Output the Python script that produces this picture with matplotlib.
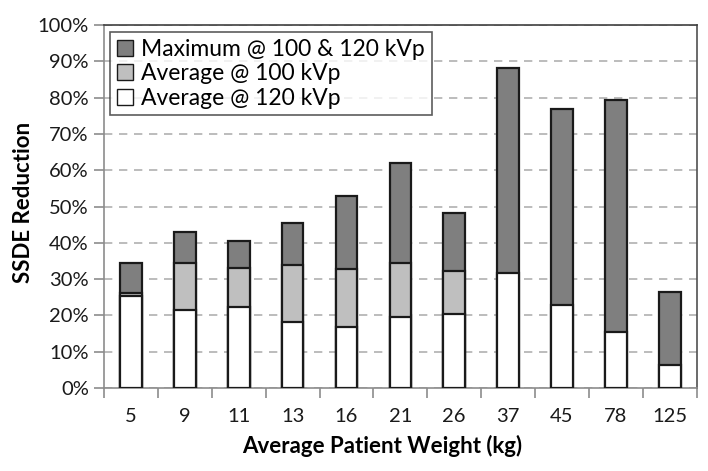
import numpy as np
import matplotlib
matplotlib.use("Agg")
import matplotlib.pyplot as plt
from matplotlib.patches import Patch

plt.rcParams['font.family'] = ['Lato', 'DejaVu Sans']

weights = ['5', '9', '11', '13', '16', '21', '26', '37', '45', '78', '125']
max_both = [34.5, 43.0, 40.5, 45.5, 53.0, 62.0, 48.3, 88.2, 76.9, 79.2, 26.6]
avg_100 = [26.1, 34.5, 33.0, 33.9, 32.9, 34.4, 32.2, None, None, None, None]
avg_120 = [25.3, 21.6, 22.2, 18.1, 16.9, 19.6, 20.4, 31.6, 23.0, 15.4, 6.4]

fig = plt.figure(figsize=(7.08, 4.71), dpi=100)
ax = fig.add_axes([0.147, 0.176, 0.837, 0.771])

x = np.arange(len(weights))
w = 0.4
ec = '#1a1a1a'
lw = 1.6

ax.bar(x, max_both, w, color='#7f7f7f', edgecolor=ec, linewidth=lw, zorder=3)
idx = [i for i, v in enumerate(avg_100) if v is not None]
ax.bar(x[idx], [avg_100[i] for i in idx], w, color='#bfbfbf', edgecolor=ec, linewidth=lw, zorder=4)
ax.bar(x, avg_120, w, color='white', edgecolor=ec, linewidth=lw, zorder=5)

ax.set_xlim(-0.5, len(weights) - 0.5)
ax.set_ylim(0, 100)
ax.set_yticks(np.arange(0, 101, 10))
ax.set_yticklabels([f'{v}%' for v in range(0, 101, 10)])
ax.yaxis.grid(True, linestyle=(0, (5, 4)), color='#b0b0b0', linewidth=1.2, zorder=0)
ax.set_axisbelow(True)

ax.set_xticks(x)
ax.set_xticklabels(weights)
ax.set_xticks(np.arange(-0.5, len(weights)), minor=True)
ax.tick_params(axis='x', which='major', length=0, labelsize=14.5, pad=14, colors='#1a1a1a')
ax.tick_params(axis='x', which='minor', length=7, direction='out', color='#8c8c8c', width=1.2)
ax.tick_params(axis='y', length=7, direction='out', color='#8c8c8c', width=1.2,
               labelsize=14.5, labelcolor='#1a1a1a', pad=4)

for s in ax.spines.values():
    s.set_color('#8c8c8c')
    s.set_linewidth(1.2)
ax.spines['top'].set_color('#404040')
ax.spines['right'].set_color('#505050')

ax.set_xlabel('Average Patient Weight (kg)', fontsize=16, fontweight='bold')
ax.xaxis.set_label_coords(0.47, -0.13)
ax.set_ylabel('SSDE Reduction', fontsize=16, fontweight='bold')
ax.yaxis.set_label_coords(-0.118, 0.51)

handles = [
    Patch(facecolor='#7f7f7f', edgecolor=ec, label='Maximum @ 100 & 120 kVp'),
    Patch(facecolor='#bfbfbf', edgecolor=ec, label='Average @ 100 kVp'),
    Patch(facecolor='white', edgecolor=ec, label='Average @ 120 kVp'),
]
leg = ax.legend(handles=handles, loc='upper left', bbox_to_anchor=(0.01, 0.981),
                fontsize=16.5, frameon=True, fancybox=False, handlelength=0.7,
                handleheight=0.7, handletextpad=0.35, labelspacing=0.15,
                borderpad=0.3, borderaxespad=0)
leg.get_frame().set_edgecolor('#333333')
leg.get_frame().set_linewidth(1.2)
leg.set_zorder(10)

fig.savefig('out.png', dpi=100)
